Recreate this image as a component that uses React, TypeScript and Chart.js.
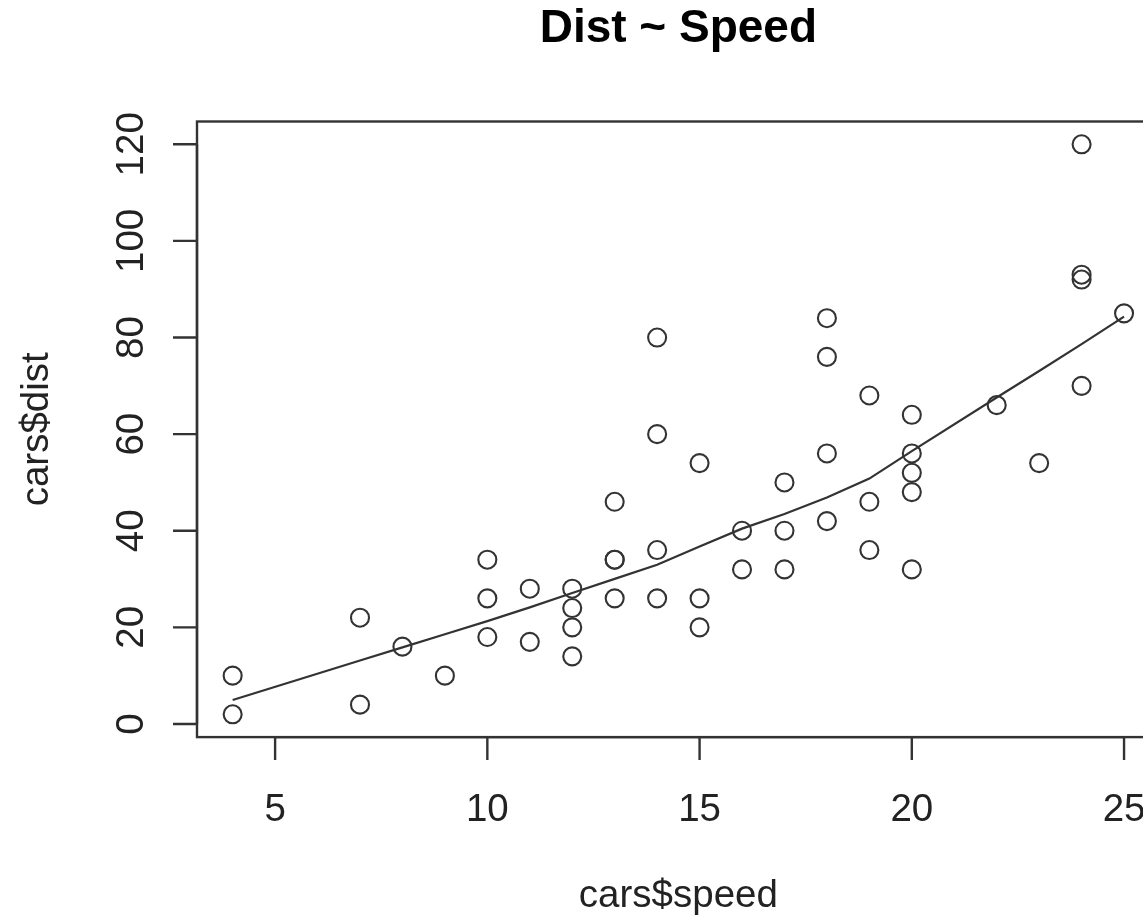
import React, { useEffect, useRef } from "react";
import { Chart, registerables } from "chart.js";

Chart.register(...registerables);

const speed = [4, 4, 7, 7, 8, 9, 10, 10, 10, 11, 11, 12, 12, 12, 12, 13, 13, 13, 13, 14, 14, 14, 14, 15, 15, 15, 16, 16, 17, 17, 17, 18, 18, 18, 18, 19, 19, 19, 20, 20, 20, 20, 20, 22, 23, 24, 24, 24, 24, 25];
const dist = [2, 10, 4, 22, 16, 10, 18, 26, 34, 17, 28, 14, 20, 24, 28, 26, 34, 34, 46, 26, 36, 60, 80, 20, 26, 54, 32, 40, 32, 40, 50, 42, 56, 76, 84, 36, 46, 68, 32, 48, 52, 56, 64, 66, 54, 70, 92, 93, 120, 85];
const lowessX = [4, 7, 8, 9, 10, 11, 12, 13, 14, 15, 16, 17, 18, 19, 20, 22, 23, 24, 25];
const lowessY = [4.965, 13.124, 15.859, 18.58, 21.28, 24.129, 27.12, 30.027, 32.963, 36.758, 40.435, 43.463, 46.885, 50.793, 56.491, 67.586, 73.08, 78.643, 84.329];
const xTicks = [5, 10, 15, 20, 25];
const yTicks = [0, 20, 40, 60, 80, 100, 120];
const title = "Dist ~ Speed";
const xLabel = "cars$speed";
const yLabel = "cars$dist";

const FONT = '"Liberation Sans", Arial, Helvetica, sans-serif';
const INK = "#333333";

const rAxesPlugin = {
  id: "rAxes",
  afterDraw(chart: any) {
    const ctx = chart.ctx;
    const area = chart.chartArea;
    const xs = chart.scales.x;
    const ys = chart.scales.y;
    ctx.save();
    ctx.strokeStyle = INK;
    ctx.fillStyle = "#222222";
    ctx.lineWidth = 2.4;
    // box
    ctx.strokeRect(area.left, area.top, area.right - area.left, area.bottom - area.top);
    // x ticks
    ctx.font = `38.5px ${FONT}`;
    ctx.textAlign = "center";
    ctx.textBaseline = "alphabetic";
    ctx.beginPath();
    ctx.moveTo(xs.getPixelForValue(xTicks[0]), area.bottom);
    ctx.lineTo(xs.getPixelForValue(xTicks[xTicks.length - 1]), area.bottom);
    for (const t of xTicks) {
      const px = xs.getPixelForValue(t);
      ctx.moveTo(px, area.bottom);
      ctx.lineTo(px, area.bottom + 23);
    }
    ctx.stroke();
    for (const t of xTicks) {
      ctx.fillText(String(t), xs.getPixelForValue(t), 821);
    }
    // y ticks
    ctx.beginPath();
    ctx.moveTo(area.left, ys.getPixelForValue(yTicks[0]));
    ctx.lineTo(area.left, ys.getPixelForValue(yTicks[yTicks.length - 1]));
    for (const t of yTicks) {
      const py = ys.getPixelForValue(t);
      ctx.moveTo(area.left, py);
      ctx.lineTo(area.left - 24, py);
    }
    ctx.stroke();
    for (const t of yTicks) {
      const py = ys.getPixelForValue(t);
      ctx.save();
      ctx.translate(143, py);
      ctx.rotate(-Math.PI / 2);
      ctx.fillText(String(t), 0, 0);
      ctx.restore();
    }
    // axis titles
    const cx = (area.left + area.right) / 2;
    ctx.fillText(xLabel, cx, 907);
    ctx.save();
    ctx.translate(48, (area.top + area.bottom) / 2);
    ctx.rotate(-Math.PI / 2);
    ctx.fillText(yLabel, 0, 0);
    ctx.restore();
    // main title
    ctx.fillStyle = "#000000";
    ctx.font = `bold 46px ${FONT}`;
    ctx.fillText(title, cx, 42);
    ctx.restore();
  },
};

export default function App() {
  const ref = useRef<HTMLCanvasElement | null>(null);
  useEffect(() => {
    if (!ref.current) return;
    const chart = new Chart(ref.current, {
      type: "scatter",
      data: {
        datasets: [
          {
            type: "scatter",
            data: speed.map((s, i) => ({ x: s, y: dist[i] })),
            pointStyle: "circle",
            pointRadius: 9,
            pointBorderWidth: 2.1,
            borderColor: INK,
            backgroundColor: "rgba(0,0,0,0)",
            clip: false,
          } as any,
          {
            type: "line",
            data: lowessX.map((s, i) => ({ x: s, y: lowessY[i] })),
            borderColor: INK,
            borderWidth: 2.2,
            pointRadius: 0,
            tension: 0,
            fill: false,
            clip: false,
          } as any,
        ],
      },
      options: {
        animation: false,
        responsive: false,
        maintainAspectRatio: false,
        devicePixelRatio: 1,
        layout: { padding: { left: 197, right: 40.3, top: 121.5, bottom: 183.9 } },
        plugins: { legend: { display: false }, tooltip: { enabled: false } },
        scales: {
          x: { type: "linear", min: 3.16, max: 25.84, display: false },
          y: { type: "linear", min: -2.72, max: 124.72, display: false },
        },
      },
      plugins: [rAxesPlugin],
    });
    return () => chart.destroy();
  }, []);
  return (
    <div style={{ position: "fixed", left: 0, top: 0, width: 1143, height: 921, overflow: "hidden", background: "#fff" }}>
      <canvas ref={ref} width={1200} height={921} style={{ position: "absolute", left: 0, top: 0, width: 1200, height: 921 }} />
    </div>
  );
}
